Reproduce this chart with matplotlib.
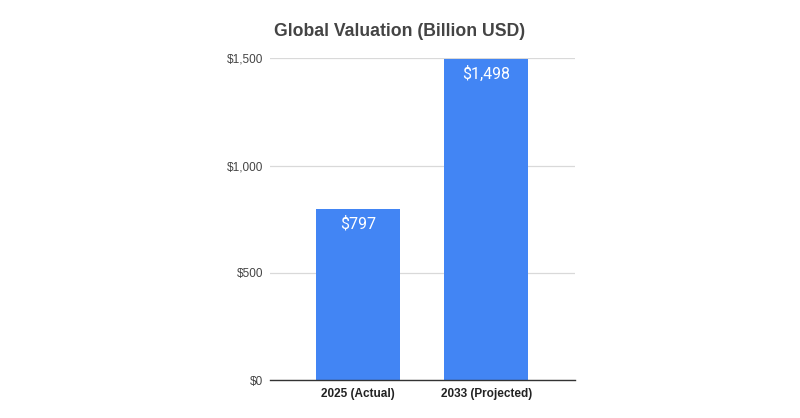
import matplotlib.pyplot as plt
from matplotlib.ticker import FuncFormatter

categories = ["2025 (Actual)", "2033 (Projected)"]
valuations = [797, 1498]
y_ticks = [0, 500, 1000, 1500]

BAR_COLOR = "#4285F4"
TEXT_COLOR = "#444444"

plt.rcParams["font.family"] = ["Liberation Sans", "DejaVu Sans"]

fig = plt.figure(figsize=(8, 4.18), dpi=100)
ax = fig.add_axes([0.3375, 0.0909, 0.38125, 0.7696])

positions = list(range(len(categories)))
bars = ax.bar(positions, valuations, width=0.654, color=BAR_COLOR, zorder=3)

for bar, value in zip(bars, valuations):
    ax.annotate(
        f"${value:,}",
        xy=(bar.get_x() + bar.get_width() / 2, bar.get_height()),
        xytext=(0, -15),
        textcoords="offset pixels",
        ha="center",
        va="center",
        color="white",
        fontsize=11.5,
        family=["Roboto", "DejaVu Sans"],
        zorder=4,
    )

ax.set_xlim(-0.685, 1.69)
ax.set_ylim(0, 1500)
ax.set_xticks(positions)
ax.set_xticklabels(categories, fontweight="bold", fontsize=8.5, color="#222222")
ax.set_yticks(y_ticks)
ax.yaxis.set_major_formatter(FuncFormatter(lambda v, _: f"${int(v):,}"))
ax.tick_params(axis="y", length=0, pad=5, labelsize=8.5, labelcolor=TEXT_COLOR)
ax.tick_params(axis="x", length=0, pad=6)

ax.grid(axis="y", color="#d9d9d9", linewidth=0.9, zorder=0)
ax.set_axisbelow(True)
for side in ["top", "right", "left"]:
    ax.spines[side].set_visible(False)
ax.spines["bottom"].set_color("#333333")
ax.spines["bottom"].set_linewidth(1.0)
ax.spines["bottom"].set_zorder(5)

fig.text(0.5, 1 - 32 / 418, "Global Valuation (Billion USD)", ha="center", va="center",
         fontsize=12.7, fontweight="bold", color=TEXT_COLOR)

fig.savefig("out.png", dpi=100)
